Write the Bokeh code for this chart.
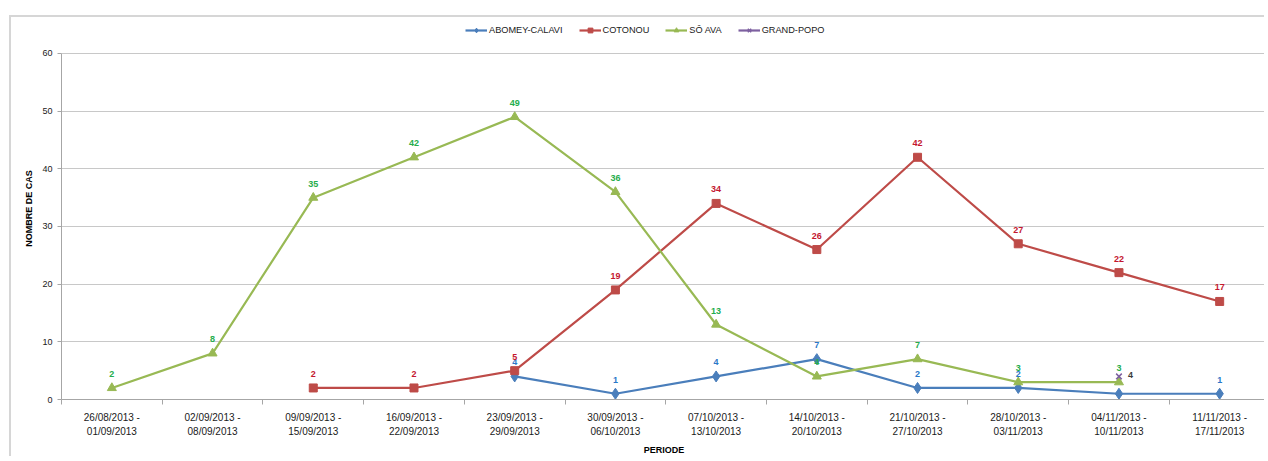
from bokeh.plotting import figure
from bokeh.models import Range1d, FixedTicker, Legend, LegendItem, ColumnDataSource
from bokeh.core.properties import value
from bokeh.embed import file_html
from bokeh.resources import INLINE

periods = ["26/08/2013 -\n01/09/2013", "02/09/2013 -\n08/09/2013", "09/09/2013 -\n15/09/2013",
           "16/09/2013 -\n22/09/2013", "23/09/2013 -\n29/09/2013", "30/09/2013 -\n06/10/2013",
           "07/10/2013 -\n13/10/2013", "14/10/2013 -\n20/10/2013", "21/10/2013 -\n27/10/2013",
           "28/10/2013 -\n03/11/2013", "04/11/2013 -\n10/11/2013", "11/11/2013 -\n17/11/2013"]
abomey_calavi = [None, None, None, None, 4, 1, 4, 7, 2, 2, 1, 1]
cotonou = [None, None, 2, 2, 5, 19, 34, 26, 42, 27, 22, 17]
so_ava = [2, 8, 35, 42, 49, 36, 13, 4, 7, 3, 3, None]
grand_popo = [None, None, None, None, None, None, None, None, None, None, 4, None]
y_ticks = [0, 10, 20, 30, 40, 50, 60]

FONT = "Liberation Sans"
xs = list(range(len(periods)))

# frame extends to the top of the canvas so the legend (drawn inside the frame) is not clipped
p = figure(width=1255, height=441, output_backend="svg", toolbar_location=None,
           x_range=Range1d(-0.5, 11.465), y_range=Range1d(0, 66.24),
           min_border_left=50, min_border_right=0, min_border_top=0, min_border_bottom=59)
p.margin = (15, 0, 0, 9)
p.styles = {"border-left": "2px solid #d6d6d6", "border-top": "2px solid #d6d6d6"}
p.outline_line_color = None
p.background_fill_color = "white"
p.border_fill_color = "white"

# axes
p.xaxis.ticker = FixedTicker(ticks=xs, minor_ticks=[i + 0.5 for i in range(-1, len(periods))])
p.xaxis.major_label_overrides = {i: lab for i, lab in enumerate(periods)}
p.xaxis.major_tick_line_color = None
p.xaxis.major_tick_out = 0
p.xaxis.major_tick_in = 0
p.xaxis.minor_tick_line_color = "#a6a6a6"
p.xaxis.minor_tick_out = 5
p.xaxis.minor_tick_in = 0
p.xaxis.axis_line_color = "#a6a6a6"
p.xaxis.major_label_text_font = FONT
p.xaxis.major_label_text_font_size = "10px"
p.xaxis.major_label_text_color = "#1a1a1a"
p.xaxis.major_label_standoff = 7
p.xaxis.major_label_text_line_height = 1.35
p.xaxis.axis_label = "PERIODE"
p.xaxis.axis_label_text_font = FONT
p.xaxis.axis_label_text_font_size = "9px"
p.xaxis.axis_label_text_font_style = "bold"
p.xaxis.axis_label_text_color = "#000000"
p.xaxis.axis_label_standoff = 5

p.yaxis.ticker = FixedTicker(ticks=y_ticks)
p.yaxis.bounds = (0, 60)
p.yaxis.minor_tick_line_color = None
p.yaxis.major_tick_line_color = "#a6a6a6"
p.yaxis.major_tick_out = 4
p.yaxis.major_tick_in = 0
p.yaxis.axis_line_color = "#a6a6a6"
p.yaxis.major_label_text_font = FONT
p.yaxis.major_label_text_font_size = "9px"
p.yaxis.major_label_text_color = "#1a1a1a"
p.yaxis.major_label_standoff = 5
p.yaxis.axis_label = "NOMBRE DE CAS"
p.yaxis.axis_label_text_font = FONT
p.yaxis.axis_label_text_font_size = "9px"
p.yaxis.axis_label_text_font_style = "bold"
p.yaxis.axis_label_text_color = "#000000"
p.yaxis.axis_label_standoff = 5

p.xgrid.grid_line_color = None
p.ygrid.grid_line_color = "#c8c8c8"
p.ygrid.grid_line_width = 1

series = [
    ("ABOMEY-CALAVI", abomey_calavi, "#4a7ebb", "diamond", 11, "#2b78c8"),
    ("COTONOU", cotonou, "#be4b48", "square", 8, "#c4172f"),
    ("SÔ AVA", so_ava, "#98b954", "triangle", 9, "#25ad4c"),
    ("GRAND-POPO", grand_popo, "#7d60a0", "x", 8, "#3a3a3a"),
]

items = []
for name, vals, color, marker, size, lab_color in series:
    yv = [float("nan") if v is None else v for v in vals]
    src = ColumnDataSource(dict(x=xs, y=yv))
    lr = p.line("x", "y", source=src, line_color=color, line_width=2.2)
    sr = p.scatter("x", "y", source=src, marker=marker, size=size, fill_color=color,
                   line_color=color, line_width=1.5 if marker == "x" else 1)
    items.append(LegendItem(label=name, renderers=[lr, sr]))
    lx = [x for x, v in zip(xs, vals) if v is not None]
    ly = [v for v in vals if v is not None]
    lt = [str(v) for v in vals if v is not None]
    lsrc = ColumnDataSource(dict(x=lx, y=ly, t=lt))
    if name == "GRAND-POPO":
        p.text("x", "y", text="t", source=lsrc, text_align="left", text_baseline="middle",
               x_offset=9, y_offset=-1, text_font=value(FONT), text_font_size="9px",
               text_font_style="bold", text_color=lab_color)
    else:
        p.text("x", "y", text="t", source=lsrc, text_align="center", text_baseline="middle",
               y_offset=-14, text_font=value(FONT), text_font_size="9px",
               text_font_style="bold", text_color=lab_color)

legend = Legend(items=items, orientation="horizontal", location=(404, 363))
legend.padding = 0
legend.margin = 0
legend.spacing = 16
legend.glyph_width = 22
legend.glyph_height = 12
legend.label_height = 12
legend.label_standoff = 2
legend.label_text_font = FONT
legend.label_text_font_size = "9.2px"
legend.label_text_color = "#1a1a1a"
legend.background_fill_alpha = 0
legend.border_line_color = None
p.add_layout(legend, "center")

open("out.html", "w").write(file_html(p, INLINE))
